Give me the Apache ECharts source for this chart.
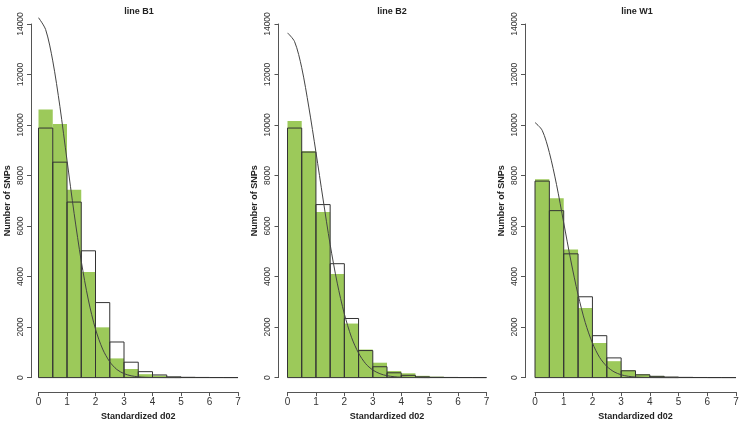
<!DOCTYPE html>
<html><head><meta charset="utf-8">
<script src="https://cdn.jsdelivr.net/npm/echarts@6/dist/echarts.min.js"></script>
<style>html,body{margin:0;padding:0;background:#fff}#c{width:745px;height:426px}</style>
</head><body><div id="c"></div>
<script>
// ---- data ----
const panelTitles = ['line B1', 'line B2', 'line W1'];
const binStarts = [0, 0.5, 1, 1.5, 2, 2.5, 3, 3.5, 4, 4.5, 5, 5.5, 6, 6.5, 7];
const xTicks = [0, 1, 2, 3, 4, 5, 6, 7];
const yTicks = [0, 2000, 4000, 6000, 8000, 10000, 12000, 14000];

const observedB1 = [10610, 10040, 7440, 4180, 1990, 760, 340, 135, 80, 30, 12, 6, 3, 2];
const expectedB1 = [9880, 8530, 6950, 5020, 2970, 1410, 610, 235, 105, 30, 12, 6, 3, 2];
const observedB2 = [10160, 8960, 6560, 4100, 2140, 1110, 590, 260, 170, 70, 35, 18, 9, 4];
const expectedB2 = [9880, 8930, 6850, 4510, 2340, 1070, 430, 190, 90, 30, 12, 6, 3, 2];
const observedW1 = [7850, 7100, 5070, 2760, 1370, 650, 290, 133, 66, 27, 12, 6, 3, 2];
const expectedW1 = [7780, 6610, 4900, 3200, 1660, 780, 270, 110, 50, 22, 9, 4, 2, 1];

const curveX  = [0, 0.25, 0.5, 0.75, 1, 1.25, 1.5, 1.75, 2, 2.25, 2.5, 2.75, 3, 3.25, 3.5, 3.75, 4, 4.5, 5];
const curveB1 = [14250, 13780, 12540, 10740, 8610, 6500, 4610, 3070, 1920, 1130, 625, 320, 158, 72, 31, 12, 5, 1, 0];
const curveB2 = [13650, 13300, 12270, 10710, 8930, 7070, 5270, 3740, 2520, 1600, 970, 550, 300, 155, 75, 35, 15, 3, 0];
const curveW1 = [10100, 9790, 8910, 7640, 6130, 4620, 3280, 2180, 1370, 800, 445, 230, 112, 51, 22, 9, 3, 1, 0];

// ---- layout ----
const panels = [
  {obs: observedB1, exp: expectedB1, curve: curveB1, left: 38.5, width: 199.5, yOff: 7.5, titleX: 134},
  {obs: observedB2, exp: expectedB2, curve: curveB2, left: 287.5, width: 199, yOff: 9, titleX: 387},
  {obs: observedW1, exp: expectedW1, curve: curveW1, left: 535, width: 201, yOff: 10, titleX: 632}
];
const GREEN = '#9cc95a';
const INK = '#333';
const TOP = 24, BOTTOM = 382.7;
const FONT = 'Liberation Sans, Arial, sans-serif';

function histRender(filled) {
  return function (params, api) {
    const x0 = api.value(0), x1 = api.value(1), h = api.value(2);
    const p0 = api.coord([x0, 0]);
    const p1 = api.coord([x1, h]);
    const shape = {x: p0[0], y: p1[1], width: p1[0] - p0[0], height: p0[1] - p1[1]};
    if (filled) {
      return {type: 'rect', shape: shape, style: {fill: GREEN, stroke: null}};
    }
    return {type: 'rect', shape: shape, style: {fill: null, stroke: INK, lineWidth: 1}};
  };
}

const grids = [], xAxes = [], yAxes = [], series = [], titles = [];
panels.forEach((p, k) => {
  grids.push({left: p.left, width: p.width, top: TOP, height: BOTTOM - TOP, containLabel: false});
  xAxes.push({
    type: 'value', gridIndex: k, min: xTicks[0], max: xTicks[xTicks.length - 1], interval: 1,
    position: 'bottom', offset: 14.5,
    axisLine: {show: true, onZero: false, lineStyle: {color: '#555', width: 1}},
    axisTick: {show: true, length: 4, lineStyle: {color: '#555'}},
    axisLabel: {color: '#333', fontSize: 10, margin: 5, fontFamily: FONT},
    splitLine: {show: false},
    name: 'Standardized d02', nameLocation: 'middle', nameGap: 19,
    nameTextStyle: {fontWeight: 'bold', fontSize: 9, color: '#222', fontFamily: FONT}
  });
  yAxes.push({
    type: 'value', gridIndex: k, min: yTicks[0], max: yTicks[yTicks.length - 1], interval: 2000,
    position: 'left', offset: p.yOff,
    axisLine: {show: true, onZero: false, lineStyle: {color: '#555', width: 1}},
    axisTick: {show: true, length: 4, lineStyle: {color: '#555'}},
    axisLabel: {color: '#333', fontSize: 8.5, rotate: 90, margin: 6, fontFamily: FONT,
      formatter: v => String(v)},
    splitLine: {show: false},
    name: 'Number of SNPs', nameLocation: 'middle', nameGap: 19, nameRotate: 90,
    nameTextStyle: {fontWeight: 'bold', fontSize: 9, color: '#222', fontFamily: FONT}
  });
  const obsData = p.obs.map((v, i) => [binStarts[i], binStarts[i + 1], v]);
  const expData = p.exp.map((v, i) => [binStarts[i], binStarts[i + 1], v]);
  series.push({type: 'custom', xAxisIndex: k, yAxisIndex: k, renderItem: histRender(true), data: obsData, clip: false, silent: true});
  series.push({type: 'custom', xAxisIndex: k, yAxisIndex: k, renderItem: histRender(false), data: expData, clip: false, silent: true});
  series.push({type: 'line', xAxisIndex: k, yAxisIndex: k, data: curveX.map((x, i) => [x, p.curve[i]]),
    showSymbol: false, smooth: 0.3, clip: false, silent: true,
    lineStyle: {color: '#444', width: 1}});
  titles.push({text: panelTitles[k], left: p.titleX, top: 2, textAlign: 'center',
    textStyle: {fontSize: 9, fontWeight: 'bold', color: '#222', fontFamily: FONT}});
});

const chart = echarts.init(document.getElementById('c'), null, {renderer: 'canvas'});
chart.setOption({animation: false, backgroundColor: '#fff', title: titles, grid: grids, xAxis: xAxes, yAxis: yAxes, series: series});
</script></body></html>
